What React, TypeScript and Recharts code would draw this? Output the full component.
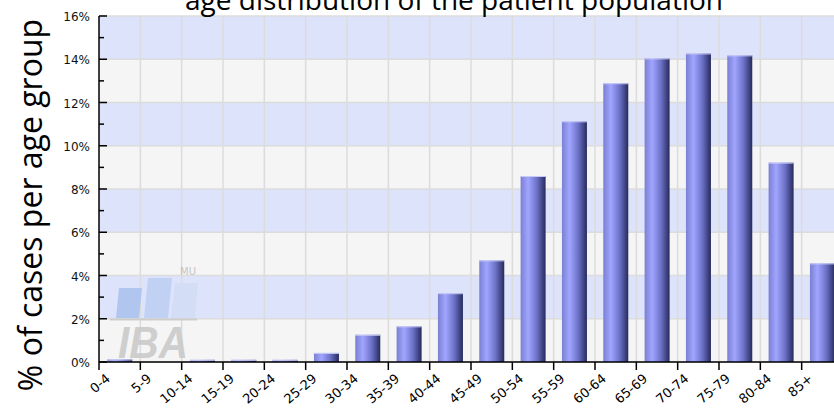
import { BarChart, Bar, XAxis, YAxis, CartesianGrid } from 'recharts';

const ageGroups = ['0-4', '5-9', '10-14', '15-19', '20-24', '25-29', '30-34', '35-39', '40-44', '45-49', '50-54', '55-59', '60-64', '65-69', '70-74', '75-79', '80-84', '85+'];
const caseShare = [0.12, 0, 0.1, 0.1, 0.1, 0.42, 1.26, 1.65, 3.18, 4.7, 8.6, 11.13, 12.89, 14.04, 14.27, 14.18, 9.22, 4.56];
const yTicks = [0, 1, 2, 3, 4, 5, 6, 7, 8, 9, 10, 11, 12, 13, 14, 15, 16];
const yGridValues = [0, 2, 4, 6, 8, 10, 12, 14, 16];

const data = ageGroups.map((group, i) => ({ group, pct: caseShare[i] }));

// layout
const CHART_W = 843;
const CHART_H = 408;
const AXIS_X = 99;
const TOP = 16;
const BOTTOM = 362;
const PLOT_W = CHART_W - AXIS_X;
const BAND = PLOT_W / ageGroups.length;

const renderXTick = (props: any) => {
  const { x, payload } = props;
  const bx = x - BAND / 2;
  const ax = bx + 12;
  const ay = 380;
  return (
    <g key={`xt-${payload.value}`}>
      <line x1={bx} x2={bx} y1={BOTTOM} y2={BOTTOM + 8} stroke="#000" strokeWidth={1.5} />
      <text
        x={ax}
        y={ay}
        textAnchor="end"
        transform={`rotate(-40, ${ax}, ${ay})`}
        fontFamily="DejaVu Sans"
        fontSize={13}
        fill="#000"
      >
        {payload.value}
      </text>
    </g>
  );
};

const renderYTick = (props: any) => {
  const { y, payload } = props;
  const major = payload.value % 2 === 0;
  return (
    <g key={`yt-${payload.value}`}>
      <line x1={AXIS_X} x2={AXIS_X + (major ? 8 : 5)} y1={y} y2={y} stroke="#000" strokeWidth={1.5} />
      {major && (
        <text x={AXIS_X - 9} y={y + 1} textAnchor="end" dominantBaseline="central" fontFamily="DejaVu Sans" fontSize={12} fill="#111">
          {payload.value}%
        </text>
      )}
    </g>
  );
};

const GlossBar = ({ x, y, width, height }: any) => {
  if (!height || height <= 0) return null;
  return (
    <g>
      <rect x={x} y={y} width={width} height={height} fill="url(#barGrad)" />
      <line x1={x} x2={x + width} y1={y + 0.5} y2={y + 0.5} stroke="#c9ccf6" strokeWidth={1} />
    </g>
  );
};

export default function App() {
  return (
    <div style={{ position: 'absolute', left: 0, top: 0, width: 834, height: 408, overflow: 'hidden', background: '#fff' }}>
      <BarChart
        width={CHART_W}
        height={CHART_H}
        data={data}
        margin={{ top: TOP, right: 0, left: 0, bottom: 0 }}
        barCategoryGap="20%"
      >
        <defs>
          <linearGradient id="barGrad" x1="0" y1="0" x2="1" y2="0">
            <stop offset="0%" stopColor="#7a80d2" />
            <stop offset="30%" stopColor="#a1a5ff" />
            <stop offset="65%" stopColor="#6d72c8" />
            <stop offset="100%" stopColor="#262a5c" />
          </linearGradient>
        </defs>
        <CartesianGrid
          stroke="#dcdcdc"
          strokeWidth={1.5}
          fill="#f5f5f5"
          horizontalFill={['#dde3fb', '#f5f5f5']}
          horizontalCoordinatesGenerator={({ offset }: any) =>
            yGridValues.map((v) => offset.top + offset.height * (1 - v / 16))
          }
          verticalCoordinatesGenerator={({ offset }: any) =>
            ageGroups.map((_, i) => offset.left + (i + 1) * (offset.width / ageGroups.length))
          }
        />
        <XAxis
          dataKey="group"
          height={CHART_H - BOTTOM}
          interval={0}
          tickLine={false}
          axisLine={{ stroke: '#000', strokeWidth: 1.5 }}
          tick={renderXTick}
        />
        <YAxis
          width={AXIS_X}
          domain={[0, 16]}
          ticks={yTicks}
          interval={0}
          tickLine={false}
          axisLine={{ stroke: '#000', strokeWidth: 1.5 }}
          tick={renderYTick}
        />
        <Bar dataKey="pct" shape={<GlossBar />} isAnimationActive={false} />
      </BarChart>
      <svg
        width={834}
        height={408}
        style={{ position: 'absolute', left: 0, top: 0, pointerEvents: 'none' }}
      >
        <text x={454} y={10} textAnchor="middle" fontFamily="Open Sans" fontSize={28} fill="#000">
          age distribution of the patient population
        </text>
        <text
          x={42}
          y={205}
          textAnchor="middle"
          transform="rotate(-90 42 205)"
          fontFamily="Open Sans"
          fontSize={32}
          fill="#000"
        >
          % of cases per age group
        </text>
        <g opacity={0.85}>
          <polygon points="119,288 142,288 139,318 116,318" fill="#a9c2ee" />
          <polygon points="148,278 172,278 168,318 144,318" fill="#bccff2" />
          <polygon points="175,283 198,283 195,318 171,318" fill="#d2ddf6" />
          <line x1={110} x2={197} y1={319.5} y2={319.5} stroke="#c9c9c9" strokeWidth={2} />
          <text x={180} y={275} fontFamily="DejaVu Sans" fontSize={10} fill="#bdbdbd">MU</text>
          <text
            x={118}
            y={358}
            fontFamily="Liberation Sans"
            fontWeight="bold"
            fontStyle="italic"
            fontSize={45}
            textLength={70}
            lengthAdjust="spacingAndGlyphs"
            fill="#c8c8c8"
          >
            IBA
          </text>
        </g>
      </svg>
    </div>
  );
}
